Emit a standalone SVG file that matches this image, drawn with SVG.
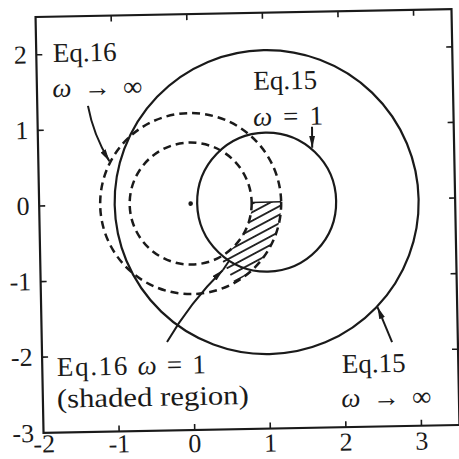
<svg xmlns="http://www.w3.org/2000/svg" width="459" height="459" viewBox="0 0 459 459">
  <defs>
    <style>
      .frame { fill: none; stroke: #1a1a1a; stroke-width: 2.2; }
      .tick { stroke: #1a1a1a; stroke-width: 1.6; }
      .solid { fill: none; stroke: #1a1a1a; stroke-width: 2.2; }
      .dash { fill: none; stroke: #1a1a1a; stroke-width: 2.5; stroke-dasharray: 8 5; }
      .lead { fill: none; stroke: #1a1a1a; stroke-width: 2; }
      .it { font-style: italic; }
    </style>
    <marker id="ah" viewBox="0 0 12 6" refX="12" refY="3" markerWidth="12" markerHeight="6" markerUnits="userSpaceOnUse" orient="auto">
      <path d="M0,0 L12,3 L0,6 z" fill="#1a1a1a"/>
    </marker>
    <pattern id="hatch" width="10" height="7.5" patternUnits="userSpaceOnUse" patternTransform="rotate(-27)">
      <line x1="0" y1="3.75" x2="10" y2="3.75" stroke="#1a1a1a" stroke-width="1.8"/>
    </pattern>
  </defs>
  <rect width="459" height="459" fill="#ffffff"/>
  <g transform="rotate(-1.1 247.25 220.5)" font-family="'Liberation Serif', 'DejaVu Serif', serif" fill="#1a1a1a">
    <g id="axes">
      <rect class="frame" x="39.5" y="13" width="416" height="416"/>
      <g class="tick">
        <line x1="115.1" y1="429" x2="115.1" y2="423"/>
        <line x1="190.7" y1="429" x2="190.7" y2="423"/>
        <line x1="266.3" y1="429" x2="266.3" y2="423"/>
        <line x1="341.9" y1="429" x2="341.9" y2="423"/>
        <line x1="417.5" y1="429" x2="417.5" y2="423"/>
        <line x1="115.1" y1="13" x2="115.1" y2="19"/>
        <line x1="190.7" y1="13" x2="190.7" y2="19"/>
        <line x1="266.3" y1="13" x2="266.3" y2="19"/>
        <line x1="341.9" y1="13" x2="341.9" y2="19"/>
        <line x1="417.5" y1="13" x2="417.5" y2="19"/>
        <line x1="39.5" y1="50.8" x2="45.5" y2="50.8"/>
        <line x1="39.5" y1="126.4" x2="45.5" y2="126.4"/>
        <line x1="39.5" y1="202" x2="45.5" y2="202"/>
        <line x1="39.5" y1="277.6" x2="45.5" y2="277.6"/>
        <line x1="39.5" y1="353.2" x2="45.5" y2="353.2"/>
        <line x1="455.5" y1="50.8" x2="449.5" y2="50.8"/>
        <line x1="455.5" y1="126.4" x2="449.5" y2="126.4"/>
        <line x1="455.5" y1="202" x2="449.5" y2="202"/>
        <line x1="455.5" y1="277.6" x2="449.5" y2="277.6"/>
        <line x1="455.5" y1="353.2" x2="449.5" y2="353.2"/>
      </g>
      <g font-size="26" text-anchor="end">
        <text x="30" y="59.3">2</text>
        <text x="30" y="134.9">1</text>
        <text x="30" y="210.5">0</text>
        <text x="30" y="286.1">-1</text>
        <text x="30" y="361.7">-2</text>
        <text x="30" y="437.8">-3</text>
      </g>
      <g font-size="26" text-anchor="middle">
        <text x="40" y="448.5">-2</text>
        <text x="115.1" y="450">-1</text>
        <text x="190.7" y="451">0</text>
        <text x="266.3" y="452">1</text>
        <text x="341.9" y="452.5">2</text>
        <text x="417.5" y="453">3</text>
      </g>
    </g>
    <g id="shaded-region">
      <path d="M252,202.5 L281.5,202.5 A90.5,90.5 0 0 1 233.5,282.4 L219.6,256.4 A61,61 0 0 0 252,202.5 Z" fill="url(#hatch)"/>
      <line x1="252" y1="202.5" x2="281.5" y2="202.5" stroke="#1a1a1a" stroke-width="1.5"/>
    </g>
    <g id="eq15-inf-circle">
      <circle class="solid" cx="267" cy="202.5" r="152"/>
    </g>
    <g id="eq15-w1-circle">
      <circle class="solid" cx="267" cy="202.5" r="69.5"/>
    </g>
    <g id="eq16-inf-circle">
      <circle class="dash" cx="191" cy="202.5" r="90.5"/>
    </g>
    <g id="eq16-inner-circle">
      <circle class="dash" cx="191" cy="202.5" r="61"/>
    </g>
    <g id="center-dot">
      <circle cx="191" cy="202.5" r="2.3" fill="#1a1a1a"/>
    </g>
    <g id="connectors">
      <path class="lead" d="M90.2,102.9 Q95,132 110.5,158.5" marker-end="url(#ah)"/>
      <path class="lead" d="M313.8,128 L313.6,149" marker-end="url(#ah)"/>
      <path class="lead" d="M389.7,344.8 L375.8,309.5" marker-end="url(#ah)"/>
      <path class="lead" d="M164.7,340.5 Q188.7,301 222,269.5" marker-end="url(#ah)"/>
      <path class="lead" d="M222,269.5 L228.2,260.7"/>
    </g>
    <g font-size="27">
      <g id="label-eq16-inf">
        <text x="56" y="58.3">Eq.16</text>
        <text x="55" y="93.3" textLength="90" lengthAdjust="spacing"><tspan class="it">ω</tspan> → ∞</text>
      </g>
      <g id="label-eq15-w1">
        <text x="256" y="90">Eq.15</text>
        <text x="255" y="126" textLength="70" lengthAdjust="spacing"><tspan class="it">ω</tspan> = 1</text>
      </g>
      <g id="label-eq16-w1">
        <text x="54" y="372.3" textLength="149" lengthAdjust="spacing">Eq.16 <tspan class="it">ω</tspan> = 1</text>
        <text x="53.4" y="404" textLength="192" lengthAdjust="spacingAndGlyphs">(shaded region)</text>
      </g>
      <g id="label-eq15-inf">
        <text x="339" y="374.8">Eq.15</text>
        <text x="338" y="408.8" textLength="90" lengthAdjust="spacing"><tspan class="it">ω</tspan> → ∞</text>
      </g>
    </g>
  </g>
</svg>
